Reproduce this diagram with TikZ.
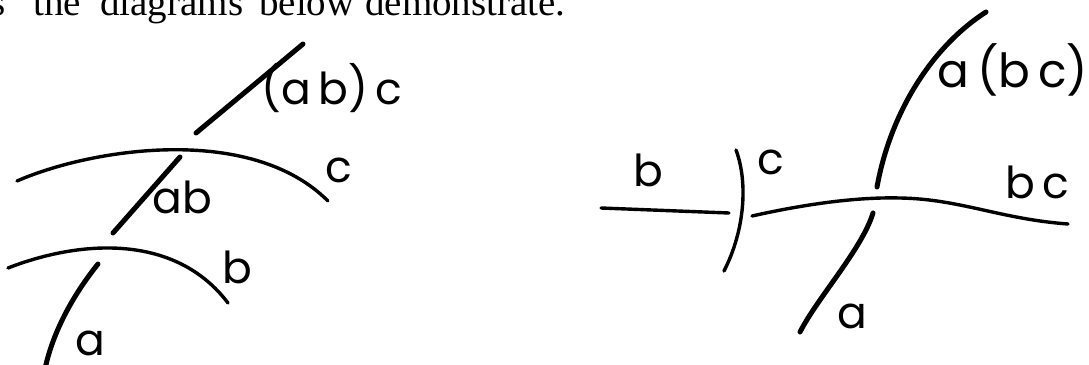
\documentclass[tikz,border=0pt]{standalone}
\usepackage{fontspec}
\setmainfont{Liberation Serif}
\newfontfamily\handfont{Poppins}
\usepackage{xcolor}
\usetikzlibrary{positioning}
\tikzset{
  strand/.style={line width=5pt,line cap=round},
  arc/.style={line width=3.4pt,line cap=round},
  lbl/.style={inner sep=0pt,font=\handfont\fontsize{44}{48}\selectfont},
  prose/.style={inner sep=0pt,anchor=base west,font=\fontsize{39}{42}\selectfont}
}

\begin{document}
\begin{tikzpicture}[x=1pt,y=-1pt]
  \useasboundingbox (0,0) rectangle (1089,364);
  \foreach \w/\x [count=\i] in {s/-10, the/33, diagrams/100, below/259, demonstrate./365} {
    \node[prose] (txt\i) at (\x,15) {\w};
  }
  % left: (ab)c
  \draw[strand] (44,374) .. controls (52,330) and (77,290) .. (98,264);
  \draw[arc] (8,268) .. controls (80,240) and (175,233) .. (228,303);
  \draw[strand] (113,233) -- (180,157);
  \draw[arc] (17,181) .. controls (90,149) and (250,123) .. (328,201);
  \draw[strand] (196,133) -- (303,44);
  \node[lbl] (la) at (90,343) {a};
  \node[lbl] (lb) at (237,267) {b};
  \node[lbl] (lab) at (182,197) {ab};
  \node[lbl] (lc) at (339,170) {c};
  \node[lbl] (labc) at (332,88) {(a\,b)\,c};
  % right: a(bc)
  \draw[arc] (601,208) -- (729,213);
  \draw[arc] (736,150) .. controls (748,182) and (745,230) .. (724,271);
  \draw[arc] (752,216) .. controls (810,203) and (860,197) .. (900,198)
                       .. controls (960,199) and (1000,219) .. (1068,224);
  \draw[strand] (800,332) .. controls (818,297) and (862,249) .. (873,213);
  \draw[strand] (877,187) .. controls (890,115) and (930,48) .. (986,12);
  \node[lbl] (rb) at (648,170) {b};
  \node[lbl] (rc) at (771,162) {c};
  \node[lbl] (rbc) at (1037,182) {b\,c};
  \node[lbl] (ra) at (852,316) {a};
  \node[lbl,font=\handfont\fontsize{47}{50}\selectfont] (rabc) at (1013,70) {a\,(b\,c)};
\end{tikzpicture}
\end{document}
